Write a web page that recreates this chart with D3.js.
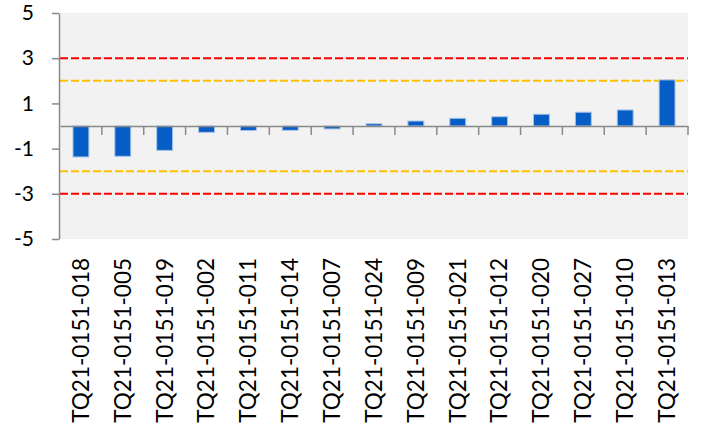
<!DOCTYPE html>
<html>
<head>
	<meta charset="utf-8">
	<style>
		body { margin: 0; background: #fff; }
		text { font-family: Lato, "Open Sans", sans-serif; fill: #000; }
	</style>
</head>
<body>
	<svg id="chart" width="707" height="429"></svg>
<script src="https://d3js.org/d3.v7.min.js"></script>
<script>
	let samples = ["TQ21-0151-018", "TQ21-0151-005", "TQ21-0151-019", "TQ21-0151-002",
		"TQ21-0151-011", "TQ21-0151-014", "TQ21-0151-007", "TQ21-0151-024",
		"TQ21-0151-009", "TQ21-0151-021", "TQ21-0151-012", "TQ21-0151-020",
		"TQ21-0151-027", "TQ21-0151-010", "TQ21-0151-013"]
	let scores = [-1.37, -1.34, -1.08, -0.28, -0.2, -0.19, -0.13, 0.1,
		0.22, 0.34, 0.41, 0.52, 0.61, 0.71, 2.04]
	let yTicks = [5, 3, 1, -1, -3, -5]
	let limits = [
		{ value: 3, color: "#ff0000" },
		{ value: -3, color: "#ff0000" },
		{ value: 2, color: "#ffc000" },
		{ value: -2, color: "#ffc000" }
	]

	let svg = d3.select("#chart")
	let plotLeft = 60, plotRight = 688, plotTop = 13, plotBottom = 239

	let x = d3.scaleBand()
		.domain(samples)
		.range([plotLeft, plotRight])
		.paddingInner(0.62)
		.paddingOuter(0.31)
	let y = d3.scaleLinear()
		.domain([-5, 5])
		.range([plotBottom, plotTop])

	// plot background
	svg.append("rect")
		.attr("x", plotLeft).attr("y", plotTop)
		.attr("width", plotRight - plotLeft).attr("height", plotBottom - plotTop)
		.attr("fill", "#f2f2f2")

	// threshold lines
	svg.selectAll(".limit")
		.data(limits)
		.enter()
		.append("line")
		.attr("x1", plotLeft).attr("x2", plotRight)
		.attr("y1", d => y(d.value)).attr("y2", d => y(d.value))
		.attr("stroke", d => d.color)
		.attr("stroke-width", 2)
		.attr("stroke-dasharray", "8,3")

	// bars
	svg.selectAll(".bar")
		.data(scores)
		.enter()
		.append("rect")
		.attr("x", (d, i) => x(samples[i]))
		.attr("width", x.bandwidth())
		.attr("y", d => y(Math.max(0, d)))
		.attr("height", d => Math.abs(y(d) - y(0)))
		.attr("fill", "#065dc6")
		.attr("stroke", "#a9c3e6")
		.attr("stroke-width", 1)

	// y axis
	let yAxis = svg.append("g")
		.attr("transform", `translate(${plotLeft - 1},0)`)
		.call(d3.axisLeft(y).tickValues(yTicks).tickSize(7).tickPadding(18).tickSizeOuter(0)
			.tickFormat(d => String(d)))
	yAxis.select(".domain").attr("stroke", "#898989").attr("stroke-width", 1.5)
	yAxis.selectAll(".tick line").attr("stroke", "#898989").attr("stroke-width", 1.5)
	yAxis.selectAll("text").style("font-size", "21px").attr("text-anchor", "end")

	// x axis at zero
	let xAxis = svg.append("g")
		.attr("transform", `translate(0,${y(0)})`)
		.call(d3.axisBottom(x).tickSize(0).tickSizeOuter(0).tickFormat(""))
	xAxis.select(".domain").attr("stroke", "#898989").attr("stroke-width", 1.5)
	xAxis.selectAll(".tick").remove()

	// ticks on category boundaries
	let bounds = samples.map(s => x(s) - x.step() * x.paddingInner() / 2 + x.step())
	svg.selectAll(".xtick")
		.data(bounds)
		.enter()
		.append("line")
		.attr("x1", d => d).attr("x2", d => d)
		.attr("y1", y(0)).attr("y2", y(0) + 9)
		.attr("stroke", "#898989")
		.attr("stroke-width", 1.5)

	// category labels
	svg.selectAll(".xlabel")
		.data(samples)
		.enter()
		.append("text")
		.attr("transform", d => `translate(${x(d) + x.bandwidth() / 2},258) rotate(-90)`)
		.attr("text-anchor", "end")
		.attr("dy", "0.35em")
		.style("font-size", "22.5px")
		.text(d => d)
</script>
</body>
</html>
